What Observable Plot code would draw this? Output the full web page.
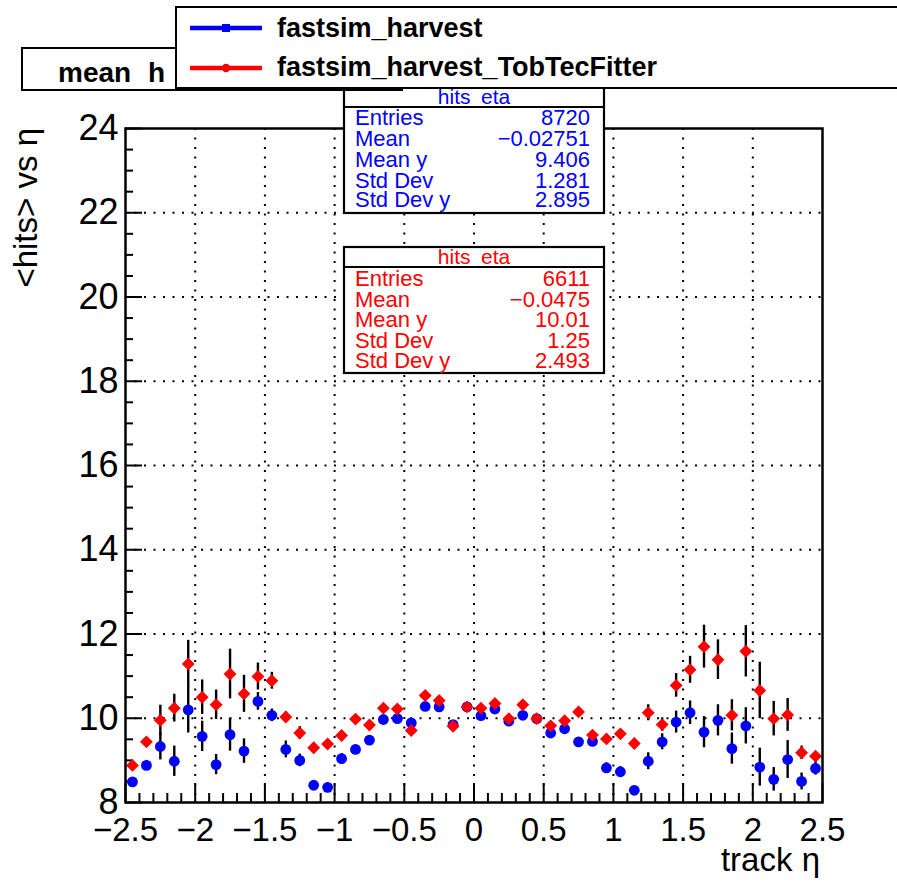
<!DOCTYPE html>
<html>
<head>
<meta charset="utf-8">
<script src="https://cdn.jsdelivr.net/npm/d3@7"></script>
<script src="https://cdn.jsdelivr.net/npm/@observablehq/plot@0.6"></script>
<style>
  html, body { margin: 0; padding: 0; background: #ffffff; }
  #chart { position: relative; width: 897px; height: 882px; overflow: hidden; }
</style>
</head>
<body>
<div id="chart"></div>
<script>
// ---- data ----
const etaCenters = [-2.45,-2.35,-2.25,-2.15,-2.05,-1.95,-1.85,-1.75,-1.65,-1.55,
  -1.45,-1.35,-1.25,-1.15,-1.05,-0.95,-0.85,-0.75,-0.65,-0.55,
  -0.45,-0.35,-0.25,-0.15,-0.05,0.05,0.15,0.25,0.35,0.45,
  0.55,0.65,0.75,0.85,0.95,1.05,1.15,1.25,1.35,1.45,
  1.55,1.65,1.75,1.85,1.95,2.05,2.15,2.25,2.35,2.45];

const harvestMean = [8.49,8.88,9.33,8.98,10.20,9.57,8.90,9.61,9.22,10.40,
  10.07,9.26,9.00,8.41,8.36,9.04,9.26,9.48,9.97,9.99,
  9.89,10.28,10.27,9.85,10.27,10.06,10.22,9.93,10.07,9.99,
  9.65,9.75,9.44,9.45,8.82,8.73,8.29,8.98,9.44,9.91,
  10.13,9.67,9.95,9.28,9.82,8.84,8.55,9.02,8.50,8.81];
const harvestErr = [0.10,0.12,0.32,0.36,0.55,0.36,0.24,0.39,0.29,0.21,
  0.15,0.20,0.15,0.10,0.10,0.12,0.10,0.10,0.08,0.08,
  0.08,0.08,0.08,0.08,0.08,0.08,0.08,0.08,0.08,0.08,
  0.08,0.08,0.08,0.08,0.12,0.12,0.10,0.20,0.19,0.26,
  0.28,0.37,0.37,0.37,0.43,0.45,0.28,0.45,0.20,0.16];

const tobTecMean = [8.88,9.44,9.95,10.24,11.29,10.50,10.32,11.05,10.58,10.99,
  10.89,10.03,9.65,9.30,9.39,9.59,9.98,9.84,10.24,10.22,
  9.71,10.54,10.42,9.81,10.27,10.24,10.35,9.99,10.32,9.99,
  9.82,9.94,10.15,9.60,9.51,9.63,9.40,10.13,9.85,10.78,
  11.15,11.70,11.39,10.07,11.59,10.66,9.99,10.08,9.18,9.10];
const tobTecErr = [0.10,0.10,0.36,0.33,0.56,0.41,0.35,0.59,0.44,0.32,
  0.20,0.12,0.15,0.10,0.08,0.08,0.08,0.08,0.08,0.08,
  0.08,0.08,0.08,0.08,0.08,0.08,0.08,0.08,0.08,0.08,
  0.08,0.08,0.08,0.08,0.08,0.08,0.08,0.19,0.16,0.28,
  0.32,0.51,0.47,0.37,0.61,0.67,0.41,0.39,0.16,0.10];

const xTickLabels = [-2.5,-2,-1.5,-1,-0.5,0,0.5,1,1.5,2,2.5];
const xMinorTicks = [-2.4,-2.3,-2.2,-2.1,-1.9,-1.8,-1.7,-1.6,-1.4,-1.3,-1.2,-1.1,
  -0.9,-0.8,-0.7,-0.6,-0.4,-0.3,-0.2,-0.1,0.1,0.2,0.3,0.4,0.6,0.7,0.8,0.9,
  1.1,1.2,1.3,1.4,1.6,1.7,1.8,1.9,2.1,2.2,2.3,2.4];
const yTickLabels = [8,10,12,14,16,18,20,22,24];
const yMinorTicks = [8.5,9,9.5,10.5,11,11.5,12.5,13,13.5,14.5,15,15.5,16.5,17,17.5,
  18.5,19,19.5,20.5,21,21.5,22.5,23,23.5];

const legendNames = ["fastsim_harvest", "fastsim_harvest_TobTecFitter"];
const statLabels = ["Entries", "Mean", "Mean y", "Std Dev", "Std Dev y"];
const harvestStats = ["8720", "\u22120.02751", "9.406", "1.281", "2.895"];
const tobTecStats = ["6611", "\u22120.0475", "10.01", "1.25", "2.493"];
const statsTitle = "hits\u2002eta";
const chartTitleParts = ["mean h", "its vs \u03b7"];
const xTitle = "track \u03b7";
const yTitle = "<hits> vs \u03b7";

// ---- layout ----
const W = 897, H = 882, mL = 125, mR = 75, mT = 128, mB = 80;
const plotW = W - mL - mR, plotH = H - mT - mB;
const FONT = "'Liberation Sans', Arial, Helvetica, sans-serif";
const BLUE = "#0000ff", RED = "#ff0000";

const rows = etaCenters.map((x, i) => ({
  x, b: harvestMean[i], be: harvestErr[i], r: tobTecMean[i], re: tobTecErr[i]
}));
const fmt = d => (d < 0 ? "\u2212" : "") + Math.abs(d);
const innerX = xTickLabels.filter(v => v > -2.5 && v < 2.5);
const innerY = yTickLabels.filter(v => v > 8 && v < 24);

const chart = Plot.plot({
  width: W, height: H,
  marginLeft: mL, marginRight: mR, marginTop: mT, marginBottom: mB,
  style: { fontFamily: FONT, background: "white", color: "black" },
  x: { domain: [-2.5, 2.5] },
  y: { domain: [8, 24] },
  marks: [
    // dotted grid
    Plot.gridX(innerX, { stroke: "black", strokeOpacity: 1, strokeWidth: 2, strokeDasharray: "2 7.5" }),
    Plot.gridY(innerY, { stroke: "black", strokeOpacity: 1, strokeWidth: 2, strokeDasharray: "2 7.5" }),
    // inward ticks (ROOT style)
    Plot.gridX(xMinorTicks, { stroke: "black", strokeOpacity: 1, strokeWidth: 2, insetTop: plotH - 9 }),
    Plot.gridX(xTickLabels, { stroke: "black", strokeOpacity: 1, strokeWidth: 2, insetTop: plotH - 19 }),
    Plot.gridY(yMinorTicks, { stroke: "black", strokeOpacity: 1, strokeWidth: 2, insetRight: plotW - 8 }),
    Plot.gridY(yTickLabels, { stroke: "black", strokeOpacity: 1, strokeWidth: 2, insetRight: plotW - 17 }),
    // tick labels
    Plot.axisX(xTickLabels, { tickSize: 0, tickPadding: 15, fontSize: 33, tickFormat: fmt, label: null }),
    Plot.axisY(yTickLabels, { tickSize: 0, tickPadding: 7, fontSize: 36, tickFormat: fmt, label: null }),
    // fastsim_harvest
    Plot.ruleX(rows, { x: "x", y1: d => d.b - d.be, y2: d => d.b + d.be, stroke: "black", strokeWidth: 2.4 }),
    Plot.dot(rows, { x: "x", y: "b", symbol: "circle", r: 5.4, fill: BLUE }),
    // fastsim_harvest_TobTecFitter
    Plot.ruleX(rows, { x: "x", y1: d => d.r - d.re, y2: d => d.r + d.re, stroke: "black", strokeWidth: 2.4 }),
    Plot.dot(rows, { x: "x", y: "r", symbol: "diamond2", r: 5.8, fill: RED }),
    Plot.frame({ stroke: "black", strokeWidth: 2.5 })
  ]
});
document.getElementById("chart").appendChild(chart);

// ---- ROOT-style annotations drawn into the same SVG ----
const svg = d3.select(chart);
const g = svg.append("g").attr("font-family", FONT).attr("text-anchor", "start");

// axis titles
g.append("text").attr("transform", `translate(37,${mT}) rotate(-90)`)
  .attr("text-anchor", "end").attr("font-size", 33).attr("fill", "black").text(yTitle);
g.append("text").attr("x", mL + plotW - 2).attr("y", 871)
  .attr("text-anchor", "end").attr("font-size", 33).attr("fill", "black").text(xTitle);

// stats boxes
function statsBox(top, color, values, baselines) {
  const left = 344, right = 604;
  const sg = g.append("g");
  sg.append("rect").attr("x", left).attr("y", top).attr("width", right - left).attr("height", 126)
    .attr("fill", "white").attr("stroke", "black").attr("stroke-width", 2.2);
  sg.append("line").attr("x1", left).attr("x2", right).attr("y1", top + 20).attr("y2", top + 20)
    .attr("stroke", "black").attr("stroke-width", 2.2);
  sg.append("text").attr("x", (left + right) / 2).attr("y", top + 16.5).attr("text-anchor", "middle")
    .attr("font-size", 21).attr("fill", color).text(statsTitle);
  statLabels.forEach((lab, i) => {
    sg.append("text").attr("x", 355).attr("y", baselines[i]).attr("font-size", 22)
      .attr("text-anchor", "start").attr("fill", color).text(lab);
    sg.append("text").attr("x", 590).attr("y", baselines[i]).attr("font-size", 22)
      .attr("text-anchor", "end").attr("fill", color).text(values[i]);
  });
}
statsBox(87, BLUE, harvestStats, [125, 146, 167, 188, 207]);
statsBox(247, RED, tobTecStats, [286, 306.5, 327, 347.5, 368]);

// title box (partly hidden by the legend, as in ROOT)
g.append("rect").attr("x", 22).attr("y", 48).attr("width", 380).attr("height", 42)
  .attr("fill", "white").attr("stroke", "black").attr("stroke-width", 2);
const titleText = g.append("text").attr("x", 58).attr("y", 82).attr("font-size", 28)
  .attr("font-weight", "bold").attr("word-spacing", 9)
  .attr("text-anchor", "start").attr("fill", "black");
titleText.append("tspan").text(chartTitleParts[0]);
titleText.append("tspan").attr("dx", 18).text(chartTitleParts[1]);

// legend
g.append("rect").attr("x", 176).attr("y", 7).attr("width", 740).attr("height", 81)
  .attr("fill", "white").attr("stroke", "black").attr("stroke-width", 2);
const legendColors = [BLUE, RED];
const legendY = [28, 68];
const legendBase = [37, 76];
legendNames.forEach((name, i) => {
  g.append("line").attr("x1", 190).attr("x2", 262).attr("y1", legendY[i]).attr("y2", legendY[i])
    .attr("stroke", legendColors[i]).attr("stroke-width", 4.5);
  if (i === 0) {
    g.append("rect").attr("x", 222).attr("y", legendY[i] - 4).attr("width", 8).attr("height", 8)
      .attr("fill", legendColors[i]);
  } else {
    g.append("circle").attr("cx", 226).attr("cy", legendY[i]).attr("r", 4.2).attr("fill", legendColors[i]);
  }
  g.append("text").attr("x", 277).attr("y", legendBase[i]).attr("font-size", 27)
    .attr("text-anchor", "start").attr("font-weight", "bold").attr("fill", "black").text(name);
});
</script>
</body>
</html>
